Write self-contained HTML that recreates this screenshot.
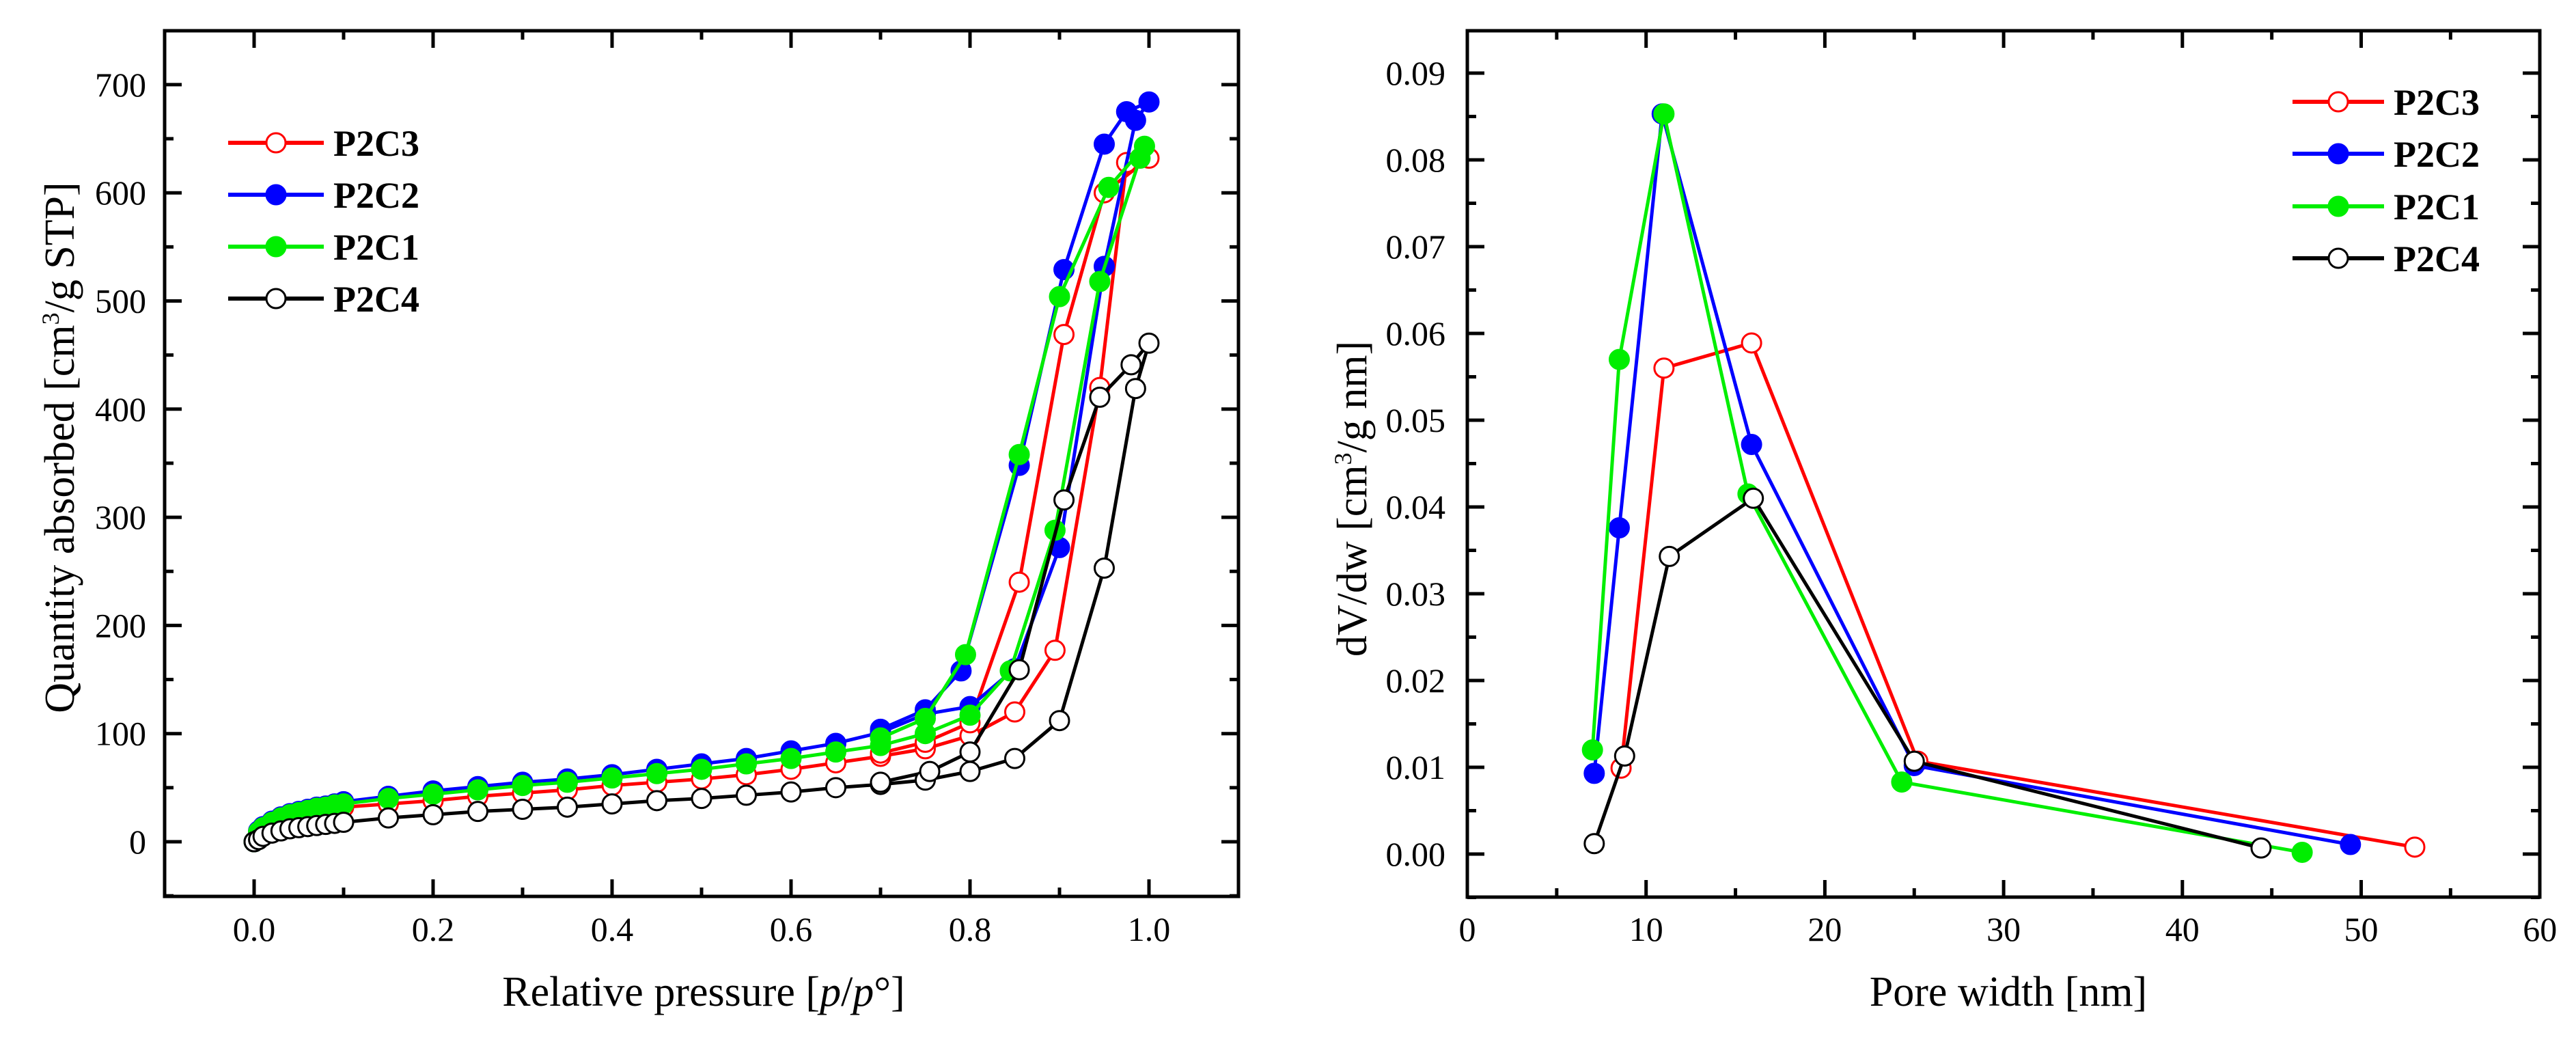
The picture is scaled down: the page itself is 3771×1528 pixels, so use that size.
<!DOCTYPE html>
<html><head><meta charset="utf-8"><style>
html,body{margin:0;padding:0;background:#fff;}
svg{display:block;font-family:"Liberation Serif",serif;}
</style></head><body>
<svg id="chart" width="3771" height="1528" viewBox="0 0 3771 1528" xmlns="http://www.w3.org/2000/svg">
<rect x="0" y="0" width="3771" height="1528" fill="#fff"/>
<g id="left"></g>
<g id="right"></g>
</svg>
<script>
// ---- Left chart data (isotherms) ----
const lowP = [0,0.005,0.01,0.02,0.03,0.04,0.05,0.06,0.07,0.08,0.09,0.1];
const midP = [0.15,0.2,0.25,0.3,0.35,0.4,0.45,0.5,0.55,0.6,0.65,0.7,0.75,0.8];
const p2c4P = [0.85,0.9,0.95,0.985,1.0,0.98,0.945,0.905,0.855,0.8,0.755,0.7];
const p2c4Q = [0,2,5,8,10,12,13,14,15,16,17,18,22,25,28,30,32,35,38,40,43,46,50,53,57,65,77,112,253,419,461,441,411,316,159,83,65,55];
const p2c3P = [0.85,0.895,0.945,0.975,1.0,0.95,0.905,0.855,0.8,0.75,0.7];
const p2c3Q = [0,8,12,17,20,22,24,26,27,29,30,32,35,38,42,45,48,52,55,58,62,67,73,79,86,98,120,177,420,628,632,600,469,240,110,92,82];
const p2c2P = [0.85,0.9,0.95,0.985,1.0,0.975,0.95,0.905,0.855,0.79,0.75,0.7];
const p2c2Q = [0,10,14,19,23,26,28,30,32,33,35,37,42,47,51,55,58,62,67,72,77,84,91,101,118,125,160,272,532,667,684,675,645,529,348,158,122,104];
const p2c1P = [0.845,0.895,0.945,0.99,0.995,0.955,0.9,0.855,0.795,0.75,0.7];
const p2c1Q = [0,9,13,18,22,25,27,29,31,32,34,35,40,44,48,52,55,59,63,67,72,77,83,89,100,117,158,288,518,632,643,605,504,358,173,114,96];
const leftXTicks = ["0.0","0.2","0.4","0.6","0.8","1.0"];
const leftYTicks = ["0","100","200","300","400","500","600","700"];

// ---- Right chart data (pore size distribution) ----
const rP2c3W = [8.6,11.0,15.9,25.2,53.0];
const rP2c3V = [0.0099,0.056,0.0589,0.0107,0.0008];
const rP2c2W = [7.1,8.5,10.9,15.9,25.0,49.4];
const rP2c2V = [0.0093,0.0376,0.0853,0.0472,0.0102,0.0011];
const rP2c1W = [7.0,8.5,11.0,15.7,24.3,46.7];
const rP2c1V = [0.012,0.057,0.0853,0.0415,0.0083,0.0002];
const rP2c4W = [7.1,8.8,11.3,16.0,25.0,44.4];
const rP2c4V = [0.0012,0.0113,0.0343,0.041,0.0107,0.0007];
const rightXTicks = ["0","10","20","30","40","50","60"];
const rightYTicks = ["0.00","0.01","0.02","0.03","0.04","0.05","0.06","0.07","0.08","0.09"];

const NS="http://www.w3.org/2000/svg";
function mk(parent,tag,attrs,text){const e=document.createElementNS(NS,tag);for(const k in attrs)e.setAttribute(k,attrs[k]);if(text!==undefined)e.textContent=text;parent.appendChild(e);return e;}

const LX=v=>372+v*1310;
const LY=v=>1232-v*1.583;
const RX=v=>2148+v*26.17;
const RY=v=>1250-v*12700;

function frame(g,x0,y0,x1,y1){
  const r=mk(g,'rect',{x:x0,y:y0,width:x1-x0,height:y1-y0,fill:'none',stroke:'#000','stroke-width':5});
  
  
}
function tick(g,x1,y1,x2,y2){mk(g,'line',{x1,y1,x2,y2,stroke:'#000','stroke-width':5});}

function drawSeries(g,xs,ys,X,Y,color,filled,name){
  const sg=mk(g,'g',{});
  
  
  const pts=xs.map((x,i)=>X(x)+','+Y(ys[i])).join(' ');
  mk(sg,'polyline',{points:pts,fill:'none',stroke:color,'stroke-width':5,'stroke-linejoin':'round'});
  xs.forEach((x,i)=>{
    const c=mk(sg,'circle',{cx:X(x),cy:Y(ys[i]),r:14,fill:filled?color:'#fff',stroke:color,'stroke-width':3});
    
    
  });
}
function legend(g,x0,x1,y,color,filled,label,name){
  const lg=mk(g,'g',{});
  
  
  mk(lg,'line',{x1:x0,y1:y,x2:x1,y2:y,stroke:color,'stroke-width':6});
  mk(lg,'circle',{cx:(x0+x1)/2,cy:y,r:14,fill:filled?color:'#fff',stroke:color,'stroke-width':3});
  mk(lg,'text',{x:x1+14,y:y+19,'font-size':54,'font-weight':'bold'},label);
}

// ===== Left chart =====
const L=document.getElementById('left');
frame(L,241,45,1813,1312);
leftXTicks.forEach((t,i)=>{
  const v=i*0.2, x=LX(v);
  tick(L,x,1312,x,1287); tick(L,x,45,x,70);
  const xm=LX(v+0.1);
  if(xm<1813){tick(L,xm,1312,xm,1299); tick(L,xm,45,xm,58);}
  const tx=mk(L,'text',{x:x,y:1377,'font-size':50,'text-anchor':'middle'},t);
  
  
});
{const xm=LX(-0.1); tick(L,xm,1312,xm,1299); tick(L,xm,45,xm,58);}
leftYTicks.forEach((t,i)=>{
  const v=i*100, y=LY(v);
  tick(L,241,y,266,y); tick(L,1813,y,1788,y);
  const ym=LY(v+50); if(ym>45){tick(L,241,ym,254,ym); tick(L,1813,ym,1800,ym);}
  const tx=mk(L,'text',{x:214,y:y+17,'font-size':50,'text-anchor':'end'},t);
  
  
});
{const ym=LY(-50); tick(L,241,ym,254,ym); tick(L,1813,ym,1800,ym);}
const lxt=mk(L,'text',{x:1030,y:1472,'font-size':62,'text-anchor':'middle'});
lxt.innerHTML='Relative pressure [<tspan font-style="italic">p</tspan>/<tspan font-style="italic">p</tspan>°]';


const lyt=mk(L,'text',{x:0,y:0,'font-size':62,'text-anchor':'middle',transform:'translate(108,655) rotate(-90)'});
lyt.innerHTML='Quantity absorbed [cm<tspan dy="-22" font-size="36">3</tspan><tspan dy="22">/g STP]</tspan>';



drawSeries(L,lowP.concat(midP,p2c3P),p2c3Q,LX,LY,'#ff0000',false,'series-p2c3');
drawSeries(L,lowP.concat(midP,p2c2P),p2c2Q,LX,LY,'#0000ff',true,'series-p2c2');
drawSeries(L,lowP.concat(midP,p2c1P),p2c1Q,LX,LY,'#00ee00',true,'series-p2c1');
drawSeries(L,lowP.concat(midP,p2c4P),p2c4Q,LX,LY,'#000000',false,'series-p2c4');
legend(L,334,474,209,'#ff0000',false,'P2C3','legend-entry-p2c3');
legend(L,334,474,285,'#0000ff',true,'P2C2','legend-entry-p2c2');
legend(L,334,474,361,'#00ee00',true,'P2C1','legend-entry-p2c1');
legend(L,334,474,437,'#000000',false,'P2C4','legend-entry-p2c4');

// ===== Right chart =====
const R=document.getElementById('right');
frame(R,2148,45,3718,1313);
rightXTicks.forEach((t,i)=>{
  const v=i*10, x=RX(v);
  if(i>0&&i<6){tick(R,x,1313,x,1288); tick(R,x,45,x,70);}
  if(i<6){const xm=RX(v+5); tick(R,xm,1313,xm,1300); tick(R,xm,45,xm,58);}
  const tx=mk(R,'text',{x:x,y:1377,'font-size':50,'text-anchor':'middle'},t);
  
  
});
rightYTicks.forEach((t,i)=>{
  const v=i*0.01, y=RY(v);
  tick(R,2148,y,2173,y); tick(R,3718,y,3693,y);
  const ym=RY(v+0.005); if(ym>45){tick(R,2148,ym,2161,ym); tick(R,3718,ym,3705,ym);}
  const ym2=RY(v-0.005); if(i===0){tick(R,2148,ym2,2161,ym2); tick(R,3718,ym2,3705,ym2);}
  const tx=mk(R,'text',{x:2116,y:y+17,'font-size':50,'text-anchor':'end'},t);
  
  
});
const rxt=mk(R,'text',{x:2940,y:1472,'font-size':62,'text-anchor':'middle'},'Pore width [nm]');


const ryt=mk(R,'text',{x:0,y:0,'font-size':62,'text-anchor':'middle',transform:'translate(2000,730) rotate(-90)'});
ryt.innerHTML='dV/dw [cm<tspan dy="-22" font-size="36">3</tspan><tspan dy="22">/g nm]</tspan>';



drawSeries(R,rP2c3W,rP2c3V,RX,RY,'#ff0000',false,'series-p2c3');
drawSeries(R,rP2c2W,rP2c2V,RX,RY,'#0000ff',true,'series-p2c2');
drawSeries(R,rP2c1W,rP2c1V,RX,RY,'#00ee00',true,'series-p2c1');
drawSeries(R,rP2c4W,rP2c4V,RX,RY,'#000000',false,'series-p2c4');
legend(R,3356,3490,149,'#ff0000',false,'P2C3','legend-entry-p2c3');
legend(R,3356,3490,225,'#0000ff',true,'P2C2','legend-entry-p2c2');
legend(R,3356,3490,302,'#00ee00',true,'P2C1','legend-entry-p2c1');
legend(R,3356,3490,378,'#000000',false,'P2C4','legend-entry-p2c4');
</script>
</body></html>
